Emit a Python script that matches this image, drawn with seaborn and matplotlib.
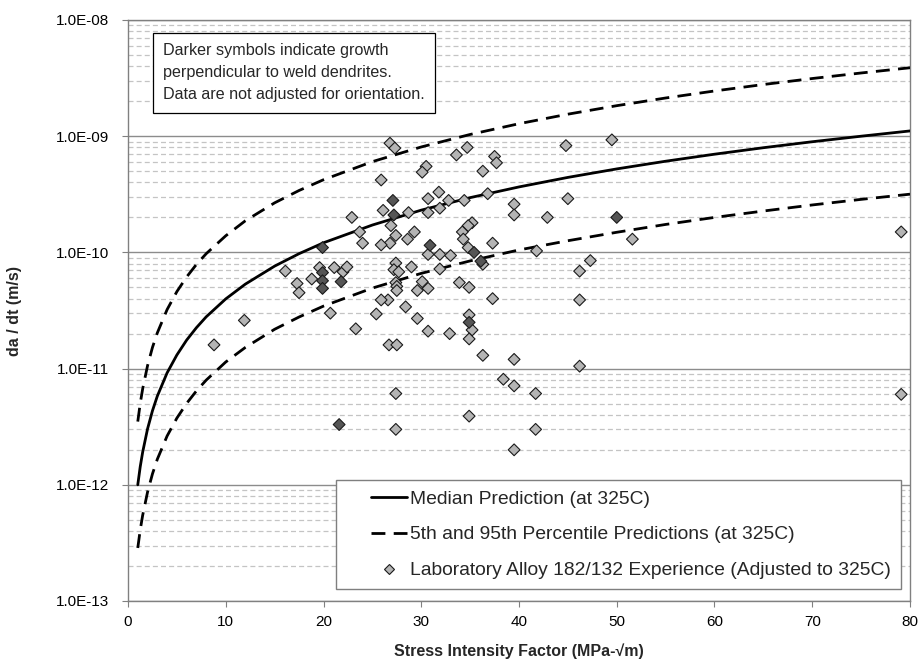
import numpy as np
import pandas as pd
import matplotlib
matplotlib.use("Agg")
import matplotlib.pyplot as plt
from matplotlib.ticker import FuncFormatter, LogLocator, NullFormatter, FixedLocator
from matplotlib.lines import Line2D
from matplotlib.legend_handler import HandlerLine2D
import seaborn as sns

# Prediction curves: stress intensity K (MPa-sqrt(m)) vs. crack growth rate (m/s)
curve_k = [1, 1.25, 1.5, 2, 2.5, 3, 4, 5, 6, 7, 8, 10, 12, 15, 17.5, 20,
           25, 30, 35, 40, 45, 50, 55, 60, 65, 70, 75, 80]
median_rate = [1.00e-12, 1.43e-12, 1.91e-12, 3.03e-12, 4.33e-12, 5.80e-12,
               9.19e-12, 1.31e-11, 1.76e-11, 2.25e-11, 2.79e-11, 3.98e-11,
               5.33e-11, 7.62e-11, 9.75e-11, 1.21e-10, 1.72e-10, 2.31e-10,
               2.96e-10, 3.66e-10, 4.42e-10, 5.23e-10, 6.09e-10, 7.00e-10,
               7.96e-10, 8.96e-10, 1.00e-9, 1.11e-9]
p95_rate = [3.50e-12, 5.01e-12, 6.69e-12, 1.06e-11, 1.52e-11, 2.03e-11,
            3.22e-11, 4.60e-11, 6.15e-11, 7.88e-11, 9.75e-11, 1.39e-10,
            1.87e-10, 2.67e-10, 3.41e-10, 4.22e-10, 6.04e-10, 8.08e-10,
            1.035e-9, 1.281e-9, 1.547e-9, 1.831e-9, 2.132e-9, 2.450e-9,
            2.785e-9, 3.136e-9, 3.500e-9, 3.882e-9]
p05_rate = [2.86e-13, 4.09e-13, 5.46e-13, 8.66e-13, 1.24e-12, 1.66e-12,
            2.63e-12, 3.75e-12, 5.02e-12, 6.43e-12, 7.96e-12, 1.14e-11,
            1.52e-11, 2.18e-11, 2.78e-11, 3.45e-11, 4.93e-11, 6.60e-11,
            8.45e-11, 1.05e-10, 1.26e-10, 1.49e-10, 1.74e-10, 2.00e-10,
            2.27e-10, 2.56e-10, 2.86e-10, 3.17e-10]

# Laboratory data, growth not perpendicular to dendrites
lab_k = [16.1, 19.6, 18.8, 21.1, 22.0, 17.3, 17.5, 11.9, 20.7, 8.8,
         26.8, 27.3, 33.6, 34.7, 37.5, 37.7, 36.3, 30.5, 30.1, 25.9,
         31.8, 30.7, 32.8, 34.4, 36.8, 39.5, 39.5, 26.1, 28.7, 30.7,
         31.9, 22.9, 26.9, 23.7, 24.0, 27.4, 29.3, 28.6, 26.8, 25.9,
         35.2, 34.8, 34.2, 34.3, 34.8, 37.3, 30.7, 31.9, 33.0, 36.3,
         41.8, 22.4, 27.4, 27.2, 27.7, 29.0, 31.9, 27.4, 27.5, 27.5,
         30.1, 29.6, 30.7, 33.9, 34.9, 37.3, 26.6, 25.9, 25.4, 28.4,
         29.6, 23.3, 30.7, 32.9, 34.9, 35.2, 34.9, 26.7, 27.5, 36.3,
         39.5, 38.4, 39.5, 27.4, 41.7, 34.9, 27.4, 41.7, 39.5, 44.8,
         49.5, 45.0, 42.9, 51.6, 47.3, 46.2, 46.2, 46.2, 79.1, 79.1]
lab_rate = [6.9e-11, 7.4e-11, 5.9e-11, 7.4e-11, 6.8e-11, 5.4e-11, 4.5e-11, 2.6e-11, 3.0e-11, 1.6e-11,
            8.7e-10, 7.9e-10, 6.9e-10, 8.0e-10, 6.7e-10, 5.9e-10, 5.0e-10, 5.5e-10, 4.9e-10, 4.2e-10,
            3.3e-10, 2.9e-10, 2.8e-10, 2.8e-10, 3.2e-10, 2.6e-10, 2.1e-10, 2.3e-10, 2.2e-10, 2.2e-10,
            2.4e-10, 2.0e-10, 1.7e-10, 1.5e-10, 1.2e-10, 1.4e-10, 1.5e-10, 1.3e-10, 1.2e-10, 1.16e-10,
            1.8e-10, 1.7e-10, 1.5e-10, 1.3e-10, 1.1e-10, 1.2e-10, 9.6e-11, 9.6e-11, 9.4e-11, 7.9e-11,
            1.03e-10, 7.5e-11, 8.1e-11, 7.1e-11, 6.8e-11, 7.5e-11, 7.2e-11, 5.5e-11, 5.1e-11, 4.7e-11,
            5.6e-11, 4.7e-11, 4.9e-11, 5.5e-11, 5.0e-11, 4.0e-11, 3.9e-11, 3.9e-11, 2.95e-11, 3.4e-11,
            2.7e-11, 2.2e-11, 2.1e-11, 2.0e-11, 2.9e-11, 2.15e-11, 1.8e-11, 1.6e-11, 1.6e-11, 1.3e-11,
            1.2e-11, 8.1e-12, 7.1e-12, 6.1e-12, 6.1e-12, 3.9e-12, 3.0e-12, 3.0e-12, 2.0e-12, 8.3e-10,
            9.3e-10, 2.9e-10, 2.0e-10, 1.3e-10, 8.5e-11, 6.9e-11, 3.9e-11, 1.05e-11, 1.5e-10, 6.0e-12]

# Laboratory data, growth perpendicular to weld dendrites (darker symbols)
perp_k = [19.9, 19.9, 19.9, 19.9, 21.8, 21.6, 27.1, 27.2, 35.4, 30.9, 36.1, 34.9, 50.0]
perp_rate = [1.1e-10, 6.7e-11, 5.7e-11, 4.9e-11, 5.6e-11, 3.3e-12, 2.8e-10, 2.1e-10,
             1.0e-10, 1.15e-10, 8.4e-11, 2.5e-11, 2.0e-10]

x_ticks = [0, 10, 20, 30, 40, 50, 60, 70, 80]
y_ticks = [1e-13, 1e-12, 1e-11, 1e-10, 1e-9, 1e-8]

legend_labels = ["Median Prediction (at 325C)",
                 "5th and 95th Percentile Predictions (at 325C)",
                 "Laboratory Alloy 182/132 Experience (Adjusted to 325C)"]
note_text = ("Darker symbols indicate growth\n"
             "perpendicular to weld dendrites.\n"
             "Data are not adjusted for orientation.")

sns.set_style("white")
plt.rcParams["font.family"] = ["Liberation Sans", "DejaVu Sans"]

LIGHT = "#b4b4b4"
DARK = "#555555"

curves = pd.DataFrame({"K": curve_k, "median": median_rate,
                       "p95": p95_rate, "p05": p05_rate})
points = pd.concat([
    pd.DataFrame({"K": lab_k, "rate": lab_rate, "orient": "other"}),
    pd.DataFrame({"K": perp_k, "rate": perp_rate, "orient": "perpendicular"}),
], ignore_index=True)

fig = plt.figure(figsize=(9.2, 6.63), dpi=100)
ax = fig.add_axes([128 / 920, 1 - 601 / 663, 782 / 920, 581 / 663])

ax.set_yscale("log")
dash = (0, (5, 3))
sns.lineplot(data=curves, x="K", y="median", ax=ax, color="black", lw=2.0,
             zorder=3, sort=False)
sns.lineplot(data=curves, x="K", y="p95", ax=ax, color="black", lw=2.0,
             linestyle=dash, zorder=3, sort=False)
sns.lineplot(data=curves, x="K", y="p05", ax=ax, color="black", lw=2.0,
             linestyle=dash, zorder=3, sort=False)
sns.scatterplot(data=points, x="K", y="rate", hue="orient", ax=ax, marker="D",
                palette={"other": LIGHT, "perpendicular": DARK}, s=36,
                edgecolor="#1a1a1a", linewidth=0.8, legend=False, zorder=4)

ax.set_xlim(0, 80)
ax.set_ylim(1e-13, 1e-8)
ax.set_xticks(x_ticks)
ax.yaxis.set_major_locator(FixedLocator(y_ticks))
ax.yaxis.set_minor_locator(LogLocator(base=10, subs=range(2, 10), numticks=30))
ax.yaxis.set_minor_formatter(NullFormatter())
ax.yaxis.set_major_formatter(FuncFormatter(lambda v, p: f"{v:.1E}"))

ax.grid(False)
ax.grid(which="major", axis="y", color="#8c8c8c", lw=1.0, ls="-", zorder=0)
ax.grid(which="minor", axis="y", color="#c4c4c4", lw=0.9, ls=(0, (4, 2.5)), zorder=0)
ax.set_axisbelow(True)
for sp in ax.spines.values():
    sp.set_color("#808080")
    sp.set_linewidth(1.0)

ax.tick_params(axis="both", which="major", bottom=True, left=True, length=4.3,
               width=0.8, color="#808080", labelsize=11, labelcolor="black")
ax.tick_params(axis="x", which="major", pad=5.5)
ax.tick_params(axis="y", which="major", pad=9.5)
ax.tick_params(axis="y", which="minor", left=False, length=0)

ax.set_xlabel("Stress Intensity Factor (MPa-\u221am)", fontsize=11.5,
              fontweight="bold")
ax.set_ylabel("da / dt (m/s)", fontsize=11.5, fontweight="bold")
ax.xaxis.set_label_coords(0.5, (601 - 643) / 581)
ax.yaxis.set_label_coords((22 - 128) / 782, 0.5)

ax.text((163 - 128) / 782, (601 - 43) / 581, note_text, transform=ax.transAxes,
        ha="left", va="top", fontsize=11.6, linespacing=1.6, zorder=6,
        bbox=dict(boxstyle="square,pad=0.65", fc="white", ec="black", lw=0.9))


class LeadHandler(HandlerLine2D):
    """Line handler that leaves blank space before the drawn sample."""

    def __init__(self, lead, **kw):
        super().__init__(**kw)
        self.lead = lead

    def create_artists(self, legend, orig_handle, xdescent, ydescent, width,
                       height, fontsize, trans):
        off = self.lead * fontsize
        return super().create_artists(legend, orig_handle, xdescent - off,
                                      ydescent, width - off, height, fontsize,
                                      trans)


h_med = Line2D([], [], color="black", lw=2.0)
h_pct = Line2D([], [], color="black", lw=2.0, linestyle=dash)
h_lab = Line2D([], [], color=LIGHT, marker="D", markersize=5.6, linestyle="none",
               markeredgecolor="#1a1a1a", markeredgewidth=0.8)
handler = LeadHandler(1.3)
leg = ax.legend([h_med, h_pct, h_lab], legend_labels,
                handler_map={h_med: handler, h_pct: handler, h_lab: handler},
                loc="lower right", bbox_to_anchor=((901 - 128) / 782, (601 - 589) / 581),
                borderaxespad=0, fontsize=13.9, frameon=True, fancybox=False,
                borderpad=0.5, handlelength=3.2, handletextpad=0.16,
                labelspacing=0.95)
leg.get_frame().set_edgecolor("#7f7f7f")
leg.get_frame().set_linewidth(1.0)
leg.get_frame().set_facecolor("white")
leg.get_frame().set_alpha(1.0)
leg.set_zorder(6)

fig.savefig("out.png", dpi=100)
